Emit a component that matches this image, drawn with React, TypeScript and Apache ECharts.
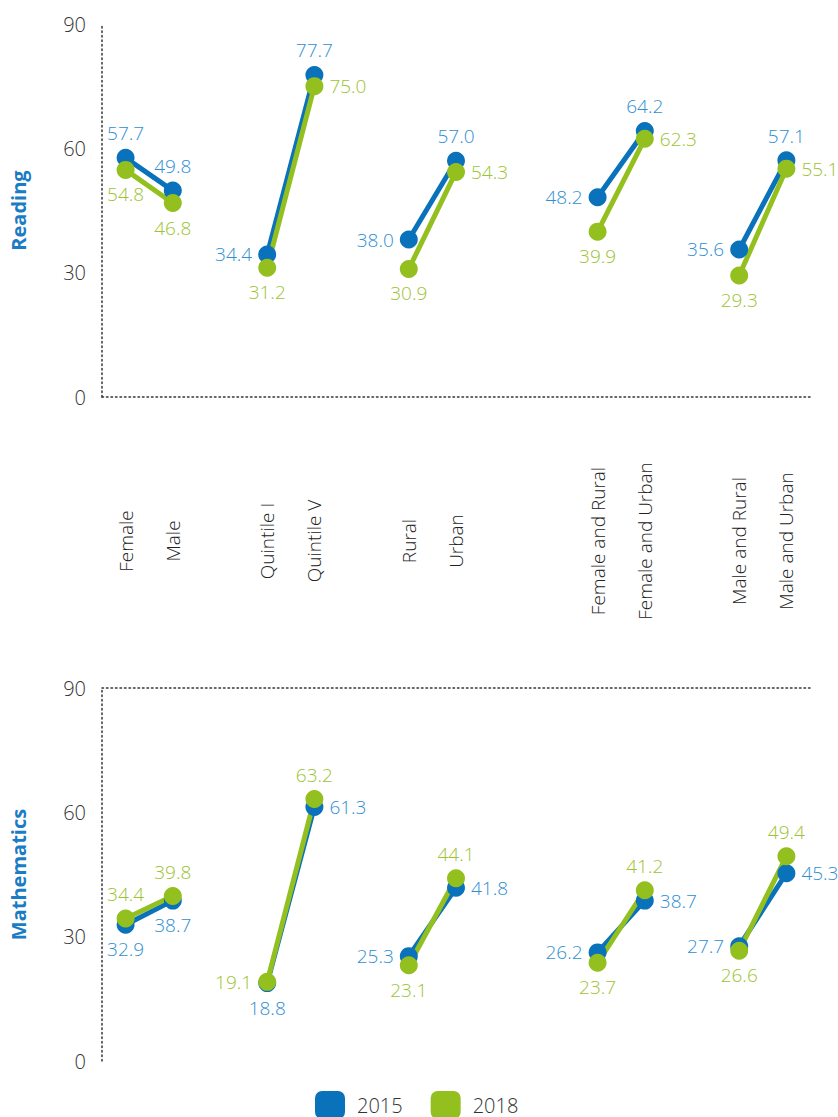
import React, { useEffect, useRef } from 'react';
import * as echarts from 'echarts';

// 15 category slots; empty strings are spacer slots between groups
const categories = [
  'Female', 'Male', '',
  'Quintile I', 'Quintile V', '',
  'Rural', 'Urban', '', '',
  'Female and Rural', 'Female and Urban', '',
  'Male and Rural', 'Male and Urban',
];

const years = ['2015', '2018'];

const reading2015 = [57.7, 49.8, null, 34.4, 77.7, null, 38.0, 57.0, null, null, 48.2, 64.2, null, 35.6, 57.1];
const reading2018 = [54.8, 46.8, null, 31.2, 75.0, null, 30.9, 54.3, null, null, 39.9, 62.3, null, 29.3, 55.1];
const math2015 = [32.9, 38.7, null, 18.8, 61.3, null, 25.3, 41.8, null, null, 26.2, 38.7, null, 27.7, 45.3];
const math2018 = [34.4, 39.8, null, 19.1, 63.2, null, 23.1, 44.1, null, null, 23.7, 41.2, null, 26.6, 49.4];

const yTicks = { min: 0, max: 90, interval: 30 };

// label placement per point
const readingPos2015 = ['top', 'top', null, 'left', 'top', null, 'left', 'top', null, null, 'left', 'top', null, 'left', 'top'];
const readingPos2018 = ['bottom', 'bottom', null, 'bottom', 'right', null, 'bottom', 'right', null, null, 'bottom', 'right', null, 'bottom', 'right'];
const mathPos2015 = ['bottom', 'bottom', null, 'bottom', 'right', null, 'left', 'right', null, null, 'left', 'right', null, 'left', 'right'];
const mathPos2018 = ['top', 'top', null, 'left', 'top', null, 'bottom', 'top', null, null, 'bottom', 'top', null, 'bottom', 'top'];

const FONT = '"Open Sans", "Noto Sans", sans-serif';
const LIGHT = 300;
const BLUE = '#0a72ba';
const BLUE_TEXT = '#2f8fd3';
const GREEN = '#93c01f';
const GREEN_TEXT = '#9cc332';
const DOT: number[] = [1.5, 3];

function makeData(vals: (number | null)[], pos: (string | null)[]) {
  return vals.map((v, i) =>
    v == null ? '-' : { value: v, label: { position: pos[i] as any } }
  );
}

function makeSeries(name: string, vals: (number | null)[], pos: (string | null)[], axis: number, color: string, textColor: string) {
  return {
    name,
    type: 'line',
    xAxisIndex: axis,
    yAxisIndex: axis,
    data: makeData(vals, pos),
    connectNulls: false,
    symbol: 'circle',
    symbolSize: 18,
    itemStyle: { color },
    lineStyle: { color, width: 5 },
    label: {
      show: true,
      distance: 6,
      color: textColor,
      fontSize: 19,
      fontWeight: LIGHT,
      fontFamily: FONT,
      formatter: (p: any) => Number(p.value).toFixed(1),
    },
    emphasis: { disabled: true },
  };
}

function yAxis(idx: number, name: string) {
  return {
    type: 'value',
    gridIndex: idx,
    min: yTicks.min,
    max: yTicks.max,
    interval: yTicks.interval,
    name,
    nameLocation: 'middle',
    nameGap: 74,
    nameRotate: 90,
    nameTextStyle: { color: '#1a7cc4', fontWeight: 'bold', fontSize: 20, fontFamily: FONT },
    axisLine: { show: true, lineStyle: { color: '#333', width: 1.5, type: DOT } },
    axisTick: { show: false },
    splitLine: { show: false },
    axisLabel: { color: '#333', fontSize: 20, fontWeight: LIGHT, fontFamily: FONT, margin: 16 },
  };
}

export default function App() {
  const ref = useRef<HTMLDivElement>(null);
  useEffect(() => {
    document.body.style.margin = '0';
    const chart = echarts.init(ref.current!, null, { renderer: 'svg' });
    const option: any = {
      animation: false,
      backgroundColor: '#ffffff',
      textStyle: { fontFamily: FONT },
      grid: [
        { left: 96, top: 24, width: 714, height: 373 },
        { left: 96, top: 688, width: 714, height: 373 },
      ],
      xAxis: [
        {
          type: 'category',
          gridIndex: 0,
          data: categories,
          boundaryGap: true,
          axisLine: { show: true, onZero: false, lineStyle: { color: '#333', width: 1.5, type: DOT } },
          axisTick: { show: false },
          axisLabel: {
            interval: 0,
            rotate: 90,
            align: 'center',
            verticalAlign: 'middle',
            margin: 144,
            color: '#222',
            fontSize: 19,
            fontWeight: LIGHT,
            fontFamily: FONT,
          },
        },
        {
          type: 'category',
          gridIndex: 1,
          position: 'top',
          data: categories,
          boundaryGap: true,
          axisLine: { show: true, onZero: false, lineStyle: { color: '#333', width: 1.5, type: DOT } },
          axisTick: { show: false },
          axisLabel: { show: false },
        },
      ],
      yAxis: [yAxis(0, 'Reading'), yAxis(1, 'Mathematics')],
      legend: {
        data: years,
        left: 315,
        top: 1091,
        padding: 0,
        itemWidth: 30,
        itemHeight: 28,
        itemGap: 28,
        icon: 'roundRect',
        textStyle: { color: '#333', fontSize: 20, fontWeight: LIGHT, fontFamily: FONT, padding: [0, 0, 0, 7] },
      },
      series: [
        makeSeries(years[0], reading2015, readingPos2015, 0, BLUE, BLUE_TEXT),
        makeSeries(years[1], reading2018, readingPos2018, 0, GREEN, GREEN_TEXT),
        makeSeries(years[0], math2015, mathPos2015, 1, BLUE, BLUE_TEXT),
        makeSeries(years[1], math2018, mathPos2018, 1, GREEN, GREEN_TEXT),
      ],
    };
    chart.setOption(option);
    return () => chart.dispose();
  }, []);
  return <div ref={ref} style={{ width: 838, height: 1117, overflow: 'hidden' }} />;
}
